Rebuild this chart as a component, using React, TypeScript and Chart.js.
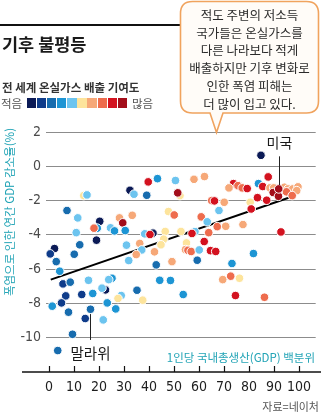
import React, { useEffect, useRef } from 'react';
import { Chart, registerables } from 'chart.js';

Chart.register(...registerables);

// GDP per-capita percentile (x)
const percentile = [
  13.9, 15.2, 32.4, 34.0, 7.2, 11.5, 20.3, 28.2, 33.3, 29.5,
  19.3, 18.0, 24.6, 26.2, 30.5, 10.9, 19.0, 12.3, 31.0, 36.3,
  39.7, 43.4, 50.6, 58.0, 62.2, 39.1, 52.4, 51.5, 65.1, 66.2,
  70.1, 47.8, 50.1, 60.9, 68.0, 63.3, 67.3, 70.7, 46.5, 52.8,
  58.4, 57.2, 63.9, 38.3, 41.6, 40.4, 45.9, 62.1, 55.0,
  84.8, 87.7, 73.8, 72.0, 75.6, 77.3, 79.3, 83.8, 85.5, 88.4,
  89.9, 94.2, 95.6, 97.5, 99.6, 99.1, 95.0, 89.7, 91.8, 97.3,
  91.9, 80.5, 83.4, 87.1, 80.9, 77.6, 92.8,
  44.8, 2.2, 0.5, 10.1, 37.1, 34.9, 42.2, 54.6, 55.6, 56.9,
  60.1, 64.6, 66.7, 81.8, 2.9, 4.3, 31.9, 42.9, 49.2, 59.3, 73.2,
  5.6, 8.5, 15.8, 25.2, 23.9, 22.6, 21.2, 6.7, 13.1, 17.5,
  28.9, 27.6, 35.2, 5.0, 1.3, 23.3, 26.7, 7.8, 16.6, 14.5,
  21.7, 9.4, 3.5,
  44.3, 48.6, 37.5, 53.7, 69.5, 72.7, 76.2, 74.6, 86.2,
];

// Annual GDP loss due to heat waves (%)
const gdpLoss = [
  -1.71, -1.67, -1.40, -1.63, -2.58, -3.01, -3.21, -3.01, -2.86, -3.30,
  -3.61, -3.61, -3.59, -3.77, -3.75, -3.87, -4.31, -4.58, -4.60, -4.50,
  -0.91, -0.72, -0.83, -0.76, -0.60, -1.69, -1.71, -1.55, -2.00, -2.02,
  -2.10, -2.64, -2.84, -2.95, -2.58, -3.24, -3.52, -3.50, -3.80, -3.80,
  -3.81, -3.92, -3.87, -3.94, -3.90, -3.98, -4.25, -4.39, -4.47,
  0.64, -0.62, -1.01, -1.26, -1.13, -1.26, -1.30, -1.01, -1.18, -1.26,
  -1.26, -1.22, -1.32, -1.32, -1.20, -1.42, -1.49, -1.53, -1.75, -1.71,
  -1.32, -2.10, -1.83, -1.98, -2.49, -3.40, -3.83,
  -4.58, -4.80, -5.11, -5.13, -4.88, -5.15, -4.99, -4.86, -4.90, -4.97,
  -4.88, -4.92, -4.97, -5.09, -5.56, -6.12, -5.50, -5.75, -5.56, -5.48, -5.67,
  -6.86, -6.76, -6.65, -6.53, -6.61, -7.21, -7.11, -7.56, -7.48, -7.42,
  -7.54, -7.71, -7.23, -7.97, -8.16, -7.97, -8.32, -8.51, -8.34, -8.88,
  -8.96, -9.80, -10.75,
  -6.65, -6.66, -7.81, -7.48, -6.61, -6.41, -6.53, -7.54, -7.64,
];

// Share of global greenhouse-gas emissions: 0 = smallest ... 9 = largest
const emissionGroup = [
  5, 4, 0, 4, 2, 4, 0, 6, 6, 9,
  3, 7, 4, 3, 3, 4, 0, 2, 4, 6,
  8, 3, 4, 6, 6, 2, 5, 9, 7, 8,
  6, 5, 7, 7, 4, 4, 7, 6, 5, 5,
  4, 8, 7, 4, 0, 8, 5, 8, 5,
  0, 8, 8, 6, 7, 7, 8, 3, 8, 6,
  6, 6, 6, 6, 6, 6, 7, 9, 9, 7,
  9, 5, 8, 8, 8, 6, 8,
  5, 0, 1, 2, 4, 6, 6, 6, 7, 7,
  4, 8, 8, 3, 2, 3, 4, 2, 6, 2, 3,
  1, 2, 4, 3, 4, 0, 4, 1, 1, 3,
  4, 5, 2, 1, 3, 3, 3, 2, 2, 1,
  4, 2, 2,
  3, 3, 5, 3, 6, 7, 5, 8, 7,
];

const legendColors = [
  '#0b1a56', '#0f3c8a', '#176cae', '#1d95d4', '#6cc4ef',
  '#fde49c', '#f6a878', '#ee6c4d', '#d3121f', '#a30e1a',
];

const xTickValues = [0, 10, 20, 30, 40, 50, 60, 70, 80, 90, 100];
const yTickValues = [2, 0, -2, -4, -6, -8, -10];

const trendX = [0.7, 98.8];
const trendY = [-6.61, -1.69];

// Labelled countries: [name, x, y of point, y of label]
const usLabel = { name: '미국', x: 92.0, lineTop: 0.58, lineBottom: -1.1, labelY: 1.38 };
const malawiLabel = { name: '말라위', x: 16.6, lineTop: -8.62, lineBottom: -10.13, labelY: -10.92 };

const calloutLines = [
  '적도 주변의 저소득',
  '국가들은 온실가스를',
  '다른 나라보다 적게',
  '배출하지만 기후 변화로',
  '인한 폭염 피해는',
  '더 많이 입고 있다.',
];

const KR = '"Noto Sans CJK KR", "Noto Sans", sans-serif';
const NUM = '"Liberation Sans Narrow", "DejaVu Sans Condensed", "Roboto", sans-serif';
const TEAL = '#22a4b6';

export default function App() {
  const ref = useRef<HTMLCanvasElement>(null);

  useEffect(() => {
    const canvas = ref.current;
    if (!canvas) return;

    const annot = {
      id: 'annot',
      afterDatasetsDraw(chart: any) {
        const { ctx } = chart;
        const xs = chart.scales.x;
        const ys = chart.scales.y;
        const bottom = chart.chartArea.bottom;
        ctx.save();
        // x axis line
        ctx.strokeStyle = '#111';
        ctx.lineWidth = 1.5;
        ctx.beginPath();
        ctx.moveTo(22, bottom);
        ctx.lineTo(321, bottom);
        ctx.stroke();
        // tick marks
        ctx.lineWidth = 1.2;
        xTickValues.forEach((v) => {
          const px = Math.round(xs.getPixelForValue(v)) + 0.5;
          ctx.beginPath();
          ctx.moveTo(px, bottom - 6);
          ctx.lineTo(px, bottom);
          ctx.stroke();
        });
        // annotations
        [usLabel, malawiLabel].forEach((a) => {
          const px = Math.round(xs.getPixelForValue(a.x)) + 0.5;
          ctx.strokeStyle = '#222';
          ctx.lineWidth = 1;
          ctx.beginPath();
          ctx.moveTo(px, ys.getPixelForValue(a.lineTop));
          ctx.lineTo(px, ys.getPixelForValue(a.lineBottom));
          ctx.stroke();
          ctx.fillStyle = '#1a1a1a';
          ctx.font = `${a === usLabel ? 14 : 14.5}px ${KR}`;
          ctx.textAlign = 'center';
          ctx.textBaseline = 'middle';
          ctx.fillText(a.name, px, ys.getPixelForValue(a.labelY));
        });
        ctx.restore();
      },
    };

    const chart = new Chart(canvas, {
      type: 'scatter',
      data: {
        datasets: [
          {
            label: 'countries',
            data: percentile.map((x, i) => ({ x, y: gdpLoss[i] })),
            pointRadius: 4.3,
            pointBorderWidth: 1,
            pointBorderColor: '#ffffff',
            pointBackgroundColor: emissionGroup.map((g) => legendColors[g]),
            order: 0,
          },
          {
            label: 'trend',
            type: 'line',
            data: trendX.map((x, i) => ({ x, y: trendY[i] })),
            borderColor: '#000',
            borderWidth: 2,
            pointRadius: 0,
            showLine: true,
            fill: false,
            order: 1,
          } as any,
        ],
      },
      options: {
        responsive: false,
        animation: false,
        layout: { padding: { top: 132, left: 0, right: 0, bottom: 0 } },
        plugins: {
          legend: { display: false },
          tooltip: { enabled: false },
        },
        scales: {
          x: {
            type: 'linear',
            min: -1.2,
            max: 106.7,
            grid: { display: false, drawTicks: false },
            border: { display: false },
            afterBuildTicks: (s: any) => {
              s.ticks = xTickValues.map((value) => ({ value }));
            },
            afterFit: (s: any) => {
              s.height = 44;
            },
            ticks: {
              padding: 7,
              color: '#1e1e1e',
              font: { family: NUM, size: 14 },
              maxRotation: 0,
              autoSkip: false,
            },
          },
          y: {
            type: 'linear',
            min: -12,
            max: 2,
            grid: { color: '#8c8c8c', lineWidth: 1, drawTicks: false },
            border: { display: false },
            afterBuildTicks: (s: any) => {
              s.ticks = yTickValues.map((value) => ({ value }));
            },
            afterFit: (s: any) => {
              s.width = 46;
            },
            ticks: {
              padding: 5,
              color: '#4a4a4a',
              font: { family: NUM, size: 14 },
              autoSkip: false,
            },
          },
        },
      },
      plugins: [annot],
    });
    return () => chart.destroy();
  }, []);

  const abs = (s: React.CSSProperties): React.CSSProperties => ({ position: 'absolute', margin: 0, whiteSpace: 'nowrap', ...s });

  return (
    <div style={{ position: 'fixed', left: 0, top: 0, width: 321, height: 416, background: '#fff', overflow: 'hidden', fontFamily: KR }}>
      <canvas ref={ref} width={321} height={416} style={{ position: 'absolute', left: 0, top: 0, width: 321, height: 416 }} />
      {/* top rule */}
      <div style={abs({ left: 0, top: 24, width: 180, height: 2, background: '#111' })} />
      {/* title */}
      <div style={abs({ left: 2, top: 34.5, fontSize: 17.5, lineHeight: '18px', fontWeight: 700, color: '#1a1a1a' })}>기후 불평등</div>
      {/* subtitle */}
      <div style={abs({ left: 2, top: 80.5, fontSize: 11.5, lineHeight: '12px', fontWeight: 700, color: '#333' })}>전 세계 온실가스 배출 기여도</div>
      {/* legend */}
      <div style={abs({ left: 1, top: 97, fontSize: 11.5, lineHeight: '12px', color: '#555' })}>적음</div>
      <div style={abs({ left: 27, top: 98, height: 10, display: 'flex' })}>
        {legendColors.map((c, i) => (
          <div key={i} style={{ width: 9.2, height: 10, marginRight: 0.9, background: c }} />
        ))}
      </div>
      <div style={abs({ left: 132, top: 97, fontSize: 11.5, lineHeight: '12px', color: '#555' })}>많음</div>
      {/* callout */}
      <svg width={321} height={140} style={{ position: 'absolute', left: 0, top: 0 }}>
        <path
          d="M192.5 1.5 H306.5 Q318.5 1.5 318.5 13.5 V101 Q318.5 113 306.5 113 H223 L216.5 132.5 L210 113 H192.5 Q180.5 113 180.5 101 V13.5 Q180.5 1.5 192.5 1.5 Z"
          fill="#fffcf8"
          stroke="#f0a35e"
          strokeWidth={1.6}
        />
      </svg>
      <div style={abs({ left: 180, top: 6, width: 139, textAlign: 'center', fontSize: 12.5, lineHeight: '17.7px', color: '#2a2a2a' })}>
        {calloutLines.map((l, i) => (
          <div key={i}>{l}</div>
        ))}
      </div>
      {/* y axis title */}
      <div style={abs({ left: 8.5 - 110, top: 212 - 7, width: 220, height: 14, lineHeight: '14px', textAlign: 'center', fontSize: 11.5, color: TEAL, transform: 'rotate(-90deg)' })}>
        폭염으로 인한 연간 GDP 감소율(%)
      </div>
      {/* x axis title */}
      <div style={abs({ right: 6, top: 349.5, lineHeight: '14px', fontSize: 11.5, color: TEAL })}>1인당 국내총생산(GDP) 백분위</div>
      {/* source */}
      <div style={abs({ right: 2, top: 400, lineHeight: '13px', fontSize: 11, color: '#555' })}>자료=네이처</div>
    </div>
  );
}
